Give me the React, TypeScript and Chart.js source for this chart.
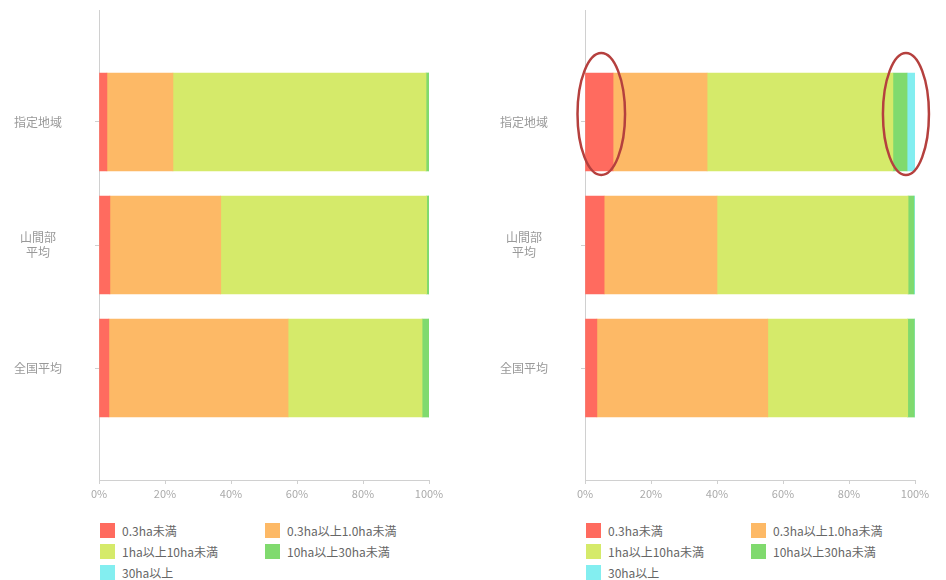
import React, { useEffect, useRef } from 'react';
import { Chart, registerables } from 'chart.js';

Chart.register(...registerables);

const FONT = '"Noto Sans CJK JP", "Noto Sans", sans-serif';

// categories (top to bottom)
const categories: (string | string[])[] = ['指定地域', ['山間部', '平均'], '全国平均'];
const seriesNames = ['0.3ha未満', '0.3ha以上1.0ha未満', '1ha以上10ha未満', '10ha以上30ha未満', '30ha以上'];
const seriesColors = ['#ff6b5f', '#fdb966', '#d5ea6a', '#80da6e', '#83eef0'];
const xTickValues = [0, 20, 40, 60, 80, 100];

// left chart (%)
const leftUnder03 = [2.4, 3.3, 3.0];
const left03to1 = [20.0, 33.6, 54.3];
const left1to10 = [76.7, 62.4, 40.6];
const left10to30 = [0.9, 0.6, 2.0];
const leftOver30 = [0.0, 0.1, 0.1];

// right chart (%)
const rightUnder03 = [8.5, 5.8, 3.6];
const right03to1 = [28.5, 34.2, 51.8];
const right1to10 = [56.3, 57.9, 42.4];
const right10to30 = [4.3, 1.8, 2.0];
const rightOver30 = [2.4, 0.3, 0.2];

const leftSeries = [leftUnder03, left03to1, left1to10, left10to30, leftOver30];
const rightSeries = [rightUnder03, right03to1, right1to10, right10to30, rightOver30];

// annotation: category 0, series groups to circle
const highlightCategory = 0;
const highlightGroups = [[0, 0], [3, 4]];

const CANVAS_W = 473;
const CANVAS_H = 510;

function makeEllipsePlugin(groups: number[][], cat: number) {
  return {
    id: 'ellipses',
    afterDatasetsDraw(chart: any) {
      const ctx = chart.ctx;
      ctx.save();
      ctx.strokeStyle = '#b5403e';
      ctx.lineWidth = 2.5;
      groups.forEach(([a, b]) => {
        const ea = chart.getDatasetMeta(a).data[cat];
        const eb = chart.getDatasetMeta(b).data[cat];
        const x0 = ea.base;
        const x1 = eb.x;
        const cx = (x0 + x1) / 2 + 2;
        const rx = Math.max((x1 - x0) / 2 + 10, 23);
        const cy = ea.y - 8;
        const ry = ea.height / 2 + 12;
        ctx.beginPath();
        ctx.ellipse(cx, cy, rx, ry, 0, 0, Math.PI * 2);
        ctx.stroke();
      });
      ctx.restore();
    },
  };
}

function StackedChart({ series, highlight }: { series: number[][]; highlight: boolean }) {
  const ref = useRef<HTMLCanvasElement | null>(null);
  useEffect(() => {
    if (!ref.current) return;
    const datasets = series.map((vals, si) => ({
      label: seriesNames[si],
      data: vals.map((v, i) => ({ x: v, y: i })),
      backgroundColor: seriesColors[si],
      borderWidth: 0,
      barThickness: 98,
      stack: 'all',
    }));
    const chart = new Chart(ref.current, {
      type: 'bar',
      data: { datasets },
      plugins: highlight ? [makeEllipsePlugin(highlightGroups, highlightCategory)] : [],
      options: {
        indexAxis: 'y',
        animation: false,
        responsive: false,
        layout: { padding: { top: 10, right: 44, left: 0, bottom: 0 } },
        plugins: { legend: { display: false }, tooltip: { enabled: false } },
        scales: {
          x: {
            type: 'linear',
            min: 0,
            max: 100,
            stacked: true,
            afterBuildTicks: (s: any) => {
              s.ticks = xTickValues.map((v) => ({ value: v }));
            },
            afterFit: (s: any) => {
              s.height = 30;
              s.paddingLeft = 0;
              s.paddingRight = 0;
            },
            ticks: {
              callback: (v: any) => v + '%',
              color: '#aaa',
              font: { family: FONT, size: 11 },
              padding: 3,
              maxRotation: 0,
            },
            grid: { drawOnChartArea: false, tickLength: 4, color: '#d0d0d0' },
            border: { color: '#d0d0d0' },
          },
          y: {
            type: 'linear',
            reverse: true,
            offset: false,
            min: -0.91,
            max: 2.91,
            afterBuildTicks: (s: any) => {
              s.ticks = categories.map((_, i) => ({ value: i }));
            },
            afterFit: (s: any) => {
              s.width = 99;
              s.paddingTop = 0;
              s.paddingBottom = 0;
            },
            ticks: {
              callback: (v: any) => categories[v as number],
              crossAlign: 'center',
              padding: 33,
              color: '#999',
              font: { family: FONT, size: 12 },
              autoSkip: false,
            },
            grid: { drawOnChartArea: false, offset: false, tickLength: 4, color: '#d0d0d0' },
            border: { color: '#d0d0d0' },
          },
        },
      } as any,
    });
    return () => chart.destroy();
  }, [series, highlight]);
  return <canvas ref={ref} width={CANVAS_W} height={CANVAS_H} style={{ display: 'block' }} />;
}

function Legend() {
  return (
    <div
      style={{
        display: 'grid',
        gridTemplateColumns: '165px 165px',
        gridAutoRows: '21px',
        fontFamily: FONT,
        fontSize: 12,
        color: '#666',
      }}
    >
      {seriesNames.map((n, i) => (
        <div key={n} style={{ display: 'flex', alignItems: 'center', height: 21, whiteSpace: 'nowrap' }}>
          <span style={{ width: 15, height: 15, background: seriesColors[i], display: 'inline-block', marginRight: 7 }} />
          <span>{n}</span>
        </div>
      ))}
    </div>
  );
}

export default function App() {
  return (
    <div style={{ position: 'absolute', left: 0, top: 0, width: 946, height: 580, background: '#fff', overflow: 'hidden' }}>
      <div style={{ position: 'absolute', left: 0, top: 0 }}>
        <StackedChart series={leftSeries} highlight={false} />
      </div>
      <div style={{ position: 'absolute', left: 100, top: 520 }}>
        <Legend />
      </div>
      <div style={{ position: 'absolute', left: 486, top: 0 }}>
        <StackedChart series={rightSeries} highlight={true} />
      </div>
      <div style={{ position: 'absolute', left: 586, top: 520 }}>
        <Legend />
      </div>
    </div>
  );
}
